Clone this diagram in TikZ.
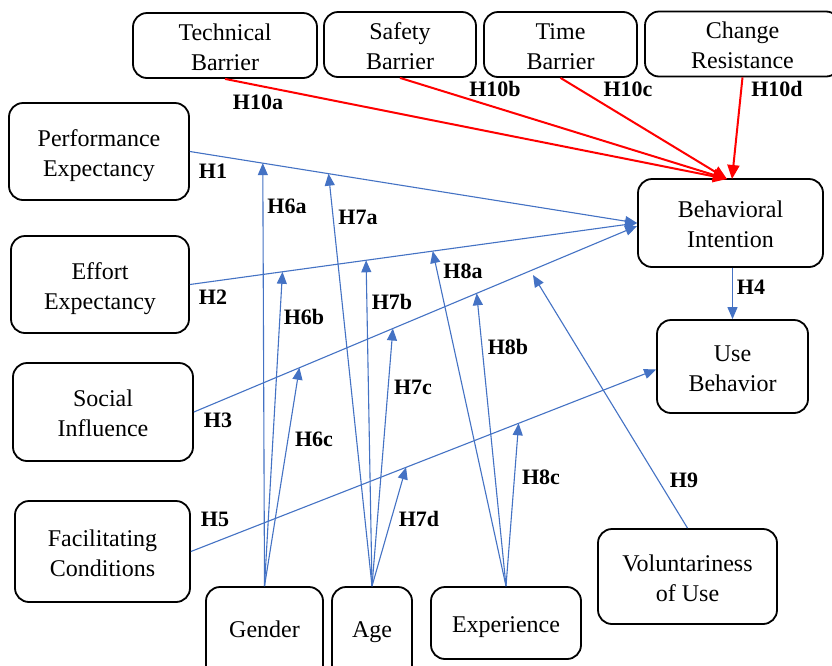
\documentclass[tikz,border=0pt]{standalone}
\usepackage{fontspec}
\setmainfont{Liberation Serif}
\usetikzlibrary{arrows.meta,calc}
\definecolor{blue1}{RGB}{68,114,196}
\definecolor{red1}{RGB}{255,0,0}
\newcommand\twol[2]{\rule{0pt}{25pt}#1\\#2\rule[-5.5pt]{0pt}{0pt}}
\begin{document}
\begin{tikzpicture}[x=1pt,y=-1pt,
 box/.style={draw=black,line width=1.8pt,rounded corners=14pt,align=center,inner sep=0pt,font=\fontsize{24}{30}\selectfont},
 onebox/.style={box,text height=24pt,text depth=5.5pt},
 cutbox/.style={box,minimum height=110pt,text height=16pt,text depth=25pt},
 lab/.style={font=\fontsize{22}{24}\selectfont\bfseries,inner sep=0pt},
 bl/.style={draw=blue1,line width=1.1pt,-{Triangle[length=12pt,width=10pt]}},
 rd/.style={draw=red1,line width=2pt,-{Triangle[length=14pt,width=12pt]}}]
\useasboundingbox (0,0) rectangle (832,665);
\fill[white] (0,0) rectangle (832,665);
% top barrier boxes
\node[box,minimum width=184pt,minimum height=65pt] (tb) at (225,45.5) {\twol{Technical}{Barrier}};
\node[box,minimum width=152pt,minimum height=65pt] (sb) at (400,44.5) {\twol{Safety}{Barrier}};
\node[box,minimum width=153pt,minimum height=65pt] (tib) at (560.5,44.5) {\twol{Time}{Barrier}};
\node[box,minimum width=195pt,minimum height=65pt] (cr) at (742.5,44) {\twol{Change}{Resistance}};
% left boxes
\node[box,minimum width=180pt,minimum height=97pt] (pe) at (99,151.5) {\twol{Performance}{Expectancy}};
\node[box,minimum width=178pt,minimum height=97pt] (ee) at (100,284.5) {\twol{Effort}{Expectancy}};
\node[box,minimum width=180pt,minimum height=98pt] (si) at (103,412) {\twol{Social}{Influence}};
\node[box,minimum width=175pt,minimum height=101pt] (fc) at (102.5,551.5) {\twol{Facilitating}{Conditions}};
% bottom boxes
\node[cutbox,minimum width=117pt] (gen) at (264.5,642) {Gender};
\node[cutbox,minimum width=80pt] (age) at (372,642) {Age};
\node[onebox,minimum width=150pt,minimum height=72pt] (exp) at (506,623) {Experience};
\node[box,minimum width=179pt,minimum height=95pt] (vol) at (687.5,576.5) {\twol{Voluntariness}{of Use}};
% right boxes
\node[box,minimum width=185pt,minimum height=88pt] (bi) at (730.5,223) {\twol{Behavioral}{Intention}};
\node[box,minimum width=151pt,minimum height=93pt] (ub) at (732.5,366.5) {\twol{Use}{Behavior}};
% red arrows
\coordinate (rt) at (727,179);
\coordinate (rt2) at (732,179);
\draw[rd] (tb.south) -- (rt);
\draw[rd] (sb.south) -- (rt);
\draw[rd] (tib.south) -- (rt);
\draw[rd] (cr.south) -- (rt2);
% main blue paths
\draw[bl] (pe.east) -- coordinate[pos=0.163] (t6a) coordinate[pos=0.310] (t7a) (bi.west);
\draw[bl] (ee.east) -- coordinate[pos=0.207] (t6b) coordinate[pos=0.394] (t7b) coordinate[pos=0.543] (t8a) (bi.west);
\draw[bl] (si.east) -- coordinate[pos=0.238] (t6c) coordinate[pos=0.449] (t7c) coordinate[pos=0.638] (t8b) ($(bi.west)+(0,3)$);
\draw[bl] (fc.east) -- coordinate[pos=0.4625] (t7d) coordinate[pos=0.7045] (t8c) ($(ub.west)+(0,3)$);
\draw[bl] (bi.south -| ub.north) -- (ub.north);
\coordinate (t9) at (533,275);
\draw[bl] (vol.north) -- (t9);
% moderators
\draw[bl] (gen.north) -- (t6a);
\draw[bl] (gen.north) -- (t6b);
\draw[bl] (gen.north) -- (t6c);
\draw[bl] (age.north) -- (t7a);
\draw[bl] (age.north) -- (t7b);
\draw[bl] (age.north) -- (t7c);
\draw[bl] (age.north) -- (t7d);
\draw[bl] (exp.north) -- (t8a);
\draw[bl] (exp.north) -- (t8b);
\draw[bl] (exp.north) -- (t8c);
% labels
\node[lab] (l10a) at (258,102) {H10a};
\node[lab] (l10b) at (495,89) {H10b};
\node[lab] (l10c) at (628,89) {H10c};
\node[lab] (l10d) at (777,89) {H10d};
\node[lab] (l1) at (213,171) {H1};
\node[lab] (l2) at (213,297) {H2};
\node[lab] (l3) at (218,420) {H3};
\node[lab] (l5) at (215,519) {H5};
\node[lab] (l4) at (751,287) {H4};
\node[lab] (l6a) at (287,206) {H6a};
\node[lab] (l7a) at (358,217) {H7a};
\node[lab] (l6b) at (304,317) {H6b};
\node[lab] (l7b) at (392,302) {H7b};
\node[lab] (l6c) at (314,439) {H6c};
\node[lab] (l7c) at (413,387) {H7c};
\node[lab] (l7d) at (419,519) {H7d};
\node[lab] (l8a) at (463,271) {H8a};
\node[lab] (l8b) at (508,347) {H8b};
\node[lab] (l8c) at (541,477) {H8c};
\node[lab] (l9) at (684,480) {H9};
\end{tikzpicture}
\end{document}
